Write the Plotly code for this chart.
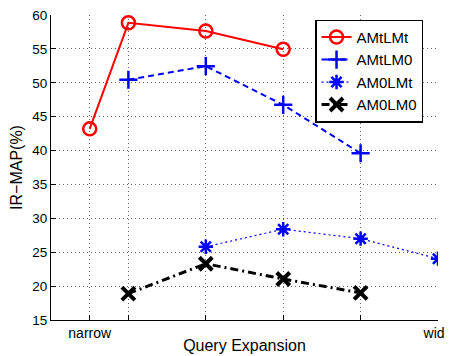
import plotly.graph_objects as go

x_vals = [0.5, 1, 2, 3, 4, 5]
tick_labels = ["narrow", "", "", "", "", "wide"]

amtlmt_x = [0.5, 1, 2, 3]
amtlmt_y = [43.2, 58.85, 57.65, 54.95]
amtlm0_x = [1, 2, 3, 4]
amtlm0_y = [50.45, 52.45, 46.75, 39.6]
am0lmt_x = [2, 3, 4, 5]
am0lmt_y = [25.8, 28.4, 27.0, 24.05]
am0lm0_x = [1, 2, 3, 4]
am0lm0_y = [18.9, 23.3, 21.05, 19.0]

fig = go.Figure()
fig.add_trace(go.Scatter(x=amtlmt_x, y=amtlmt_y, name="AMtLMt", mode="lines+markers",
                         line=dict(color="#ff0000", width=2),
                         marker=dict(symbol="circle-open", size=13, color="#ff0000", line=dict(width=2.5))))
fig.add_trace(go.Scatter(x=amtlm0_x, y=amtlm0_y, name="AMtLM0", mode="lines+markers",
                         line=dict(color="#0000ff", width=2, dash="6px,4px"),
                         marker=dict(symbol="cross-thin-open", size=13, color="#0000ff", line=dict(width=2.5))))
fig.add_trace(go.Scatter(x=am0lmt_x, y=am0lmt_y, name="AM0LMt", mode="lines+markers",
                         line=dict(color="#0000ff", width=1.2, dash="2px,3px"),
                         marker=dict(symbol="asterisk-open", size=12, color="#0000ff", line=dict(width=2.5))))
fig.add_trace(go.Scatter(x=am0lm0_x, y=am0lm0_y, name="AM0LM0", mode="lines+markers",
                         line=dict(color="#000000", width=3, dash="8px,4px,2px,4px"),
                         marker=dict(symbol="x-thin-open", size=13, color="#000000", line=dict(width=4))))

font_family = "Liberation Sans, Arial, sans-serif"
grid_color = "rgba(0,0,0,0.6)"
fig.update_layout(
    width=445, height=348,
    margin=dict(l=43, r=15, t=7, b=36, autoexpand=False),
    paper_bgcolor="white", plot_bgcolor="white",
    font=dict(family=font_family, size=13, color="black"),
    showlegend=True,
    legend=dict(x=0.683, y=0.985, xanchor="left", yanchor="top",
                bgcolor="white", bordercolor="black", borderwidth=1.2,
                font=dict(size=15, family=font_family), tracegroupgap=0,
                itemwidth=30),
    xaxis=dict(range=[0, 5], tickmode="array", tickvals=x_vals, ticktext=tick_labels,
               automargin=False, ticklabeloverflow="allow",
               showgrid=True, gridcolor=grid_color, griddash="1px,3px", gridwidth=1,
               zeroline=False, showline=True, linecolor="black", linewidth=1,
               ticks="inside", ticklen=5, tickcolor="black",
               tickfont=dict(size=14),
               title=dict(text="Query Expansion", font=dict(size=16), standoff=0)),
    yaxis=dict(range=[15, 60], tickmode="array", tickvals=list(range(15, 61, 5)),
               automargin=False, ticklabeloverflow="allow",
               showgrid=True, gridcolor=grid_color, griddash="1px,3px", gridwidth=1,
               zeroline=False, showline=True, linecolor="black", linewidth=1,
               ticks="inside", ticklen=5, tickcolor="black",
               tickfont=dict(size=13.5),
               title=dict(text="IR−MAP(%)", font=dict(size=16), standoff=6)),
)

fig.write_html("out.html")
